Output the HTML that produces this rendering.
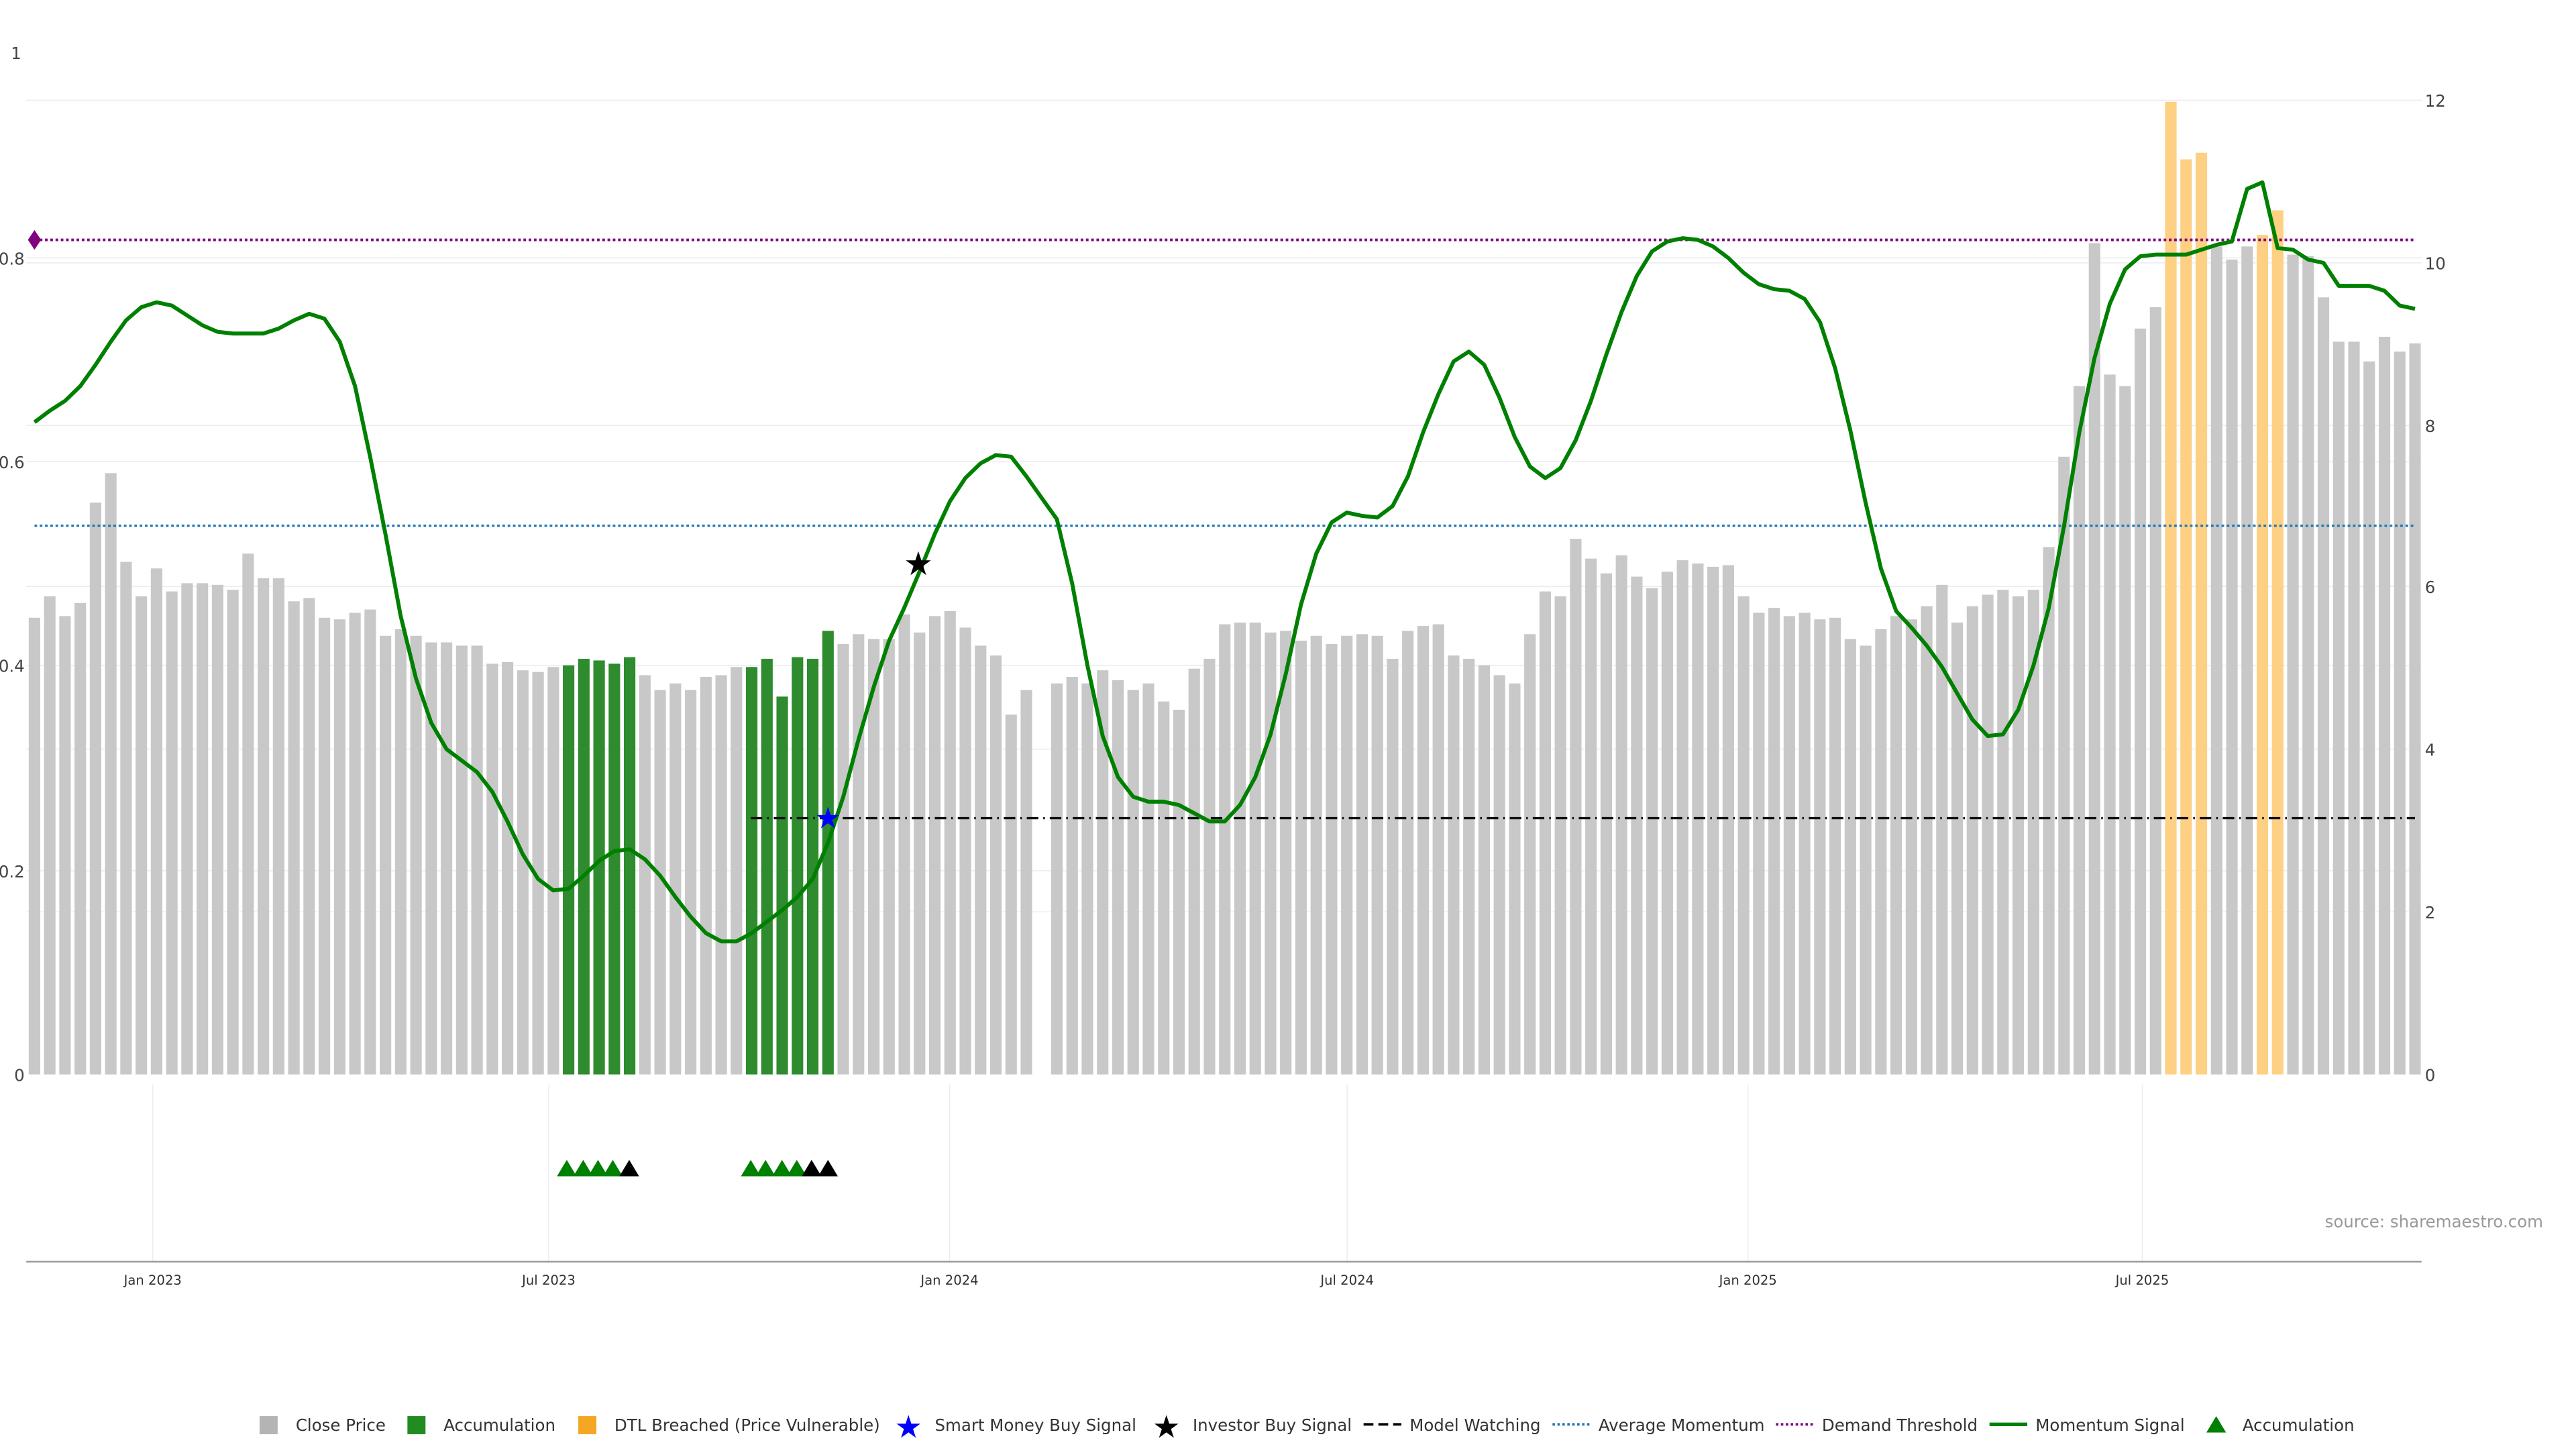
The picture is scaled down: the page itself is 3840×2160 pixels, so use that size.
<!DOCTYPE html>
<html><head><meta charset="utf-8"><style>
html,body{margin:0;padding:0;background:#fff;width:3840px;height:2160px;overflow:hidden}
svg{display:block}
text{font-family:"DejaVu Sans","Liberation Sans",sans-serif}
</style></head><body>
<svg id="s" width="3840" height="2160" viewBox="0 0 1568 882" xmlns="http://www.w3.org/2000/svg">
<rect width="1568" height="882" fill="#fff"/>
<g id="grid" stroke="#ececf0" stroke-width="0.6"></g>
<g id="bars"></g>
<line x1="21" y1="146" x2="1470" y2="146" stroke="#800080" stroke-width="1.6" stroke-dasharray="1.6,1.6"/>
<polygon points="21,140 25,146 21,152 17,146" fill="#800080"/>
<line x1="21" y1="320" x2="1470" y2="320" stroke="#1f77b4" stroke-width="1.4" stroke-dasharray="1.6,1.6"/>
<line x1="457" y1="498" x2="1470" y2="498" stroke="#111" stroke-width="1.4" stroke-dasharray="7,3,1,3"/>
<polyline id="mom" fill="none" stroke="#008000" stroke-width="2.4" stroke-linejoin="round"/>
<text x="504" y="504" font-size="18" fill="#0000ff" text-anchor="middle">★</text>
<text x="559" y="350" font-size="20" fill="#000" text-anchor="middle">★</text>
<g id="tri"></g>
<g font-size="10" fill="#444">
<text x="13" y="36" text-anchor="end">1</text>
<text x="15" y="161" text-anchor="end">0.8</text>
<text x="15" y="285" text-anchor="end">0.6</text>
<text x="15" y="409" text-anchor="end">0.4</text>
<text x="15" y="534" text-anchor="end">0.2</text>
<text x="15" y="658" text-anchor="end">0</text>
<text x="1476" y="65">12</text><text x="1476" y="164">10</text><text x="1476" y="263">8</text>
<text x="1476" y="361">6</text><text x="1476" y="460">4</text><text x="1476" y="559">2</text><text x="1476" y="658">0</text>
</g>
<line x1="16" y1="768" x2="1474" y2="768" stroke="#999" stroke-width="1"/>
<g font-size="8" fill="#333" text-anchor="middle">
<text x="93" y="782">Jan 2023</text><text x="334" y="782">Jul 2023</text><text x="578" y="782">Jan 2024</text>
<text x="820" y="782">Jul 2024</text><text x="1064" y="782">Jan 2025</text><text x="1304" y="782">Jul 2025</text>
</g>
<text x="1548" y="747" font-size="10" fill="#999" text-anchor="end">source: sharemaestro.com</text>
<g font-size="10" fill="#333">
<rect x="158" y="862" width="11" height="11" fill="#b4b4b4"/><text x="180" y="871">Close Price</text>
<rect x="248" y="862" width="11" height="11" fill="#228b22"/><text x="270" y="871">Accumulation</text>
<rect x="352" y="862" width="11" height="11" fill="#f5a623"/><text x="374" y="871">DTL Breached (Price Vulnerable)</text>
<text x="553" y="875" font-size="19" fill="#0000ff" text-anchor="middle">★</text><text x="569" y="871">Smart Money Buy Signal</text>
<text x="710" y="875" font-size="19" fill="#000" text-anchor="middle">★</text><text x="726" y="871">Investor Buy Signal</text>
<line x1="830" y1="867" x2="853" y2="867" stroke="#000" stroke-width="1.5" stroke-dasharray="6,3"/><text x="858" y="871">Model Watching</text>
<line x1="945" y1="867" x2="968" y2="867" stroke="#1f77b4" stroke-width="1.5" stroke-dasharray="1.5,1.5"/><text x="973" y="871">Average Momentum</text>
<line x1="1081" y1="867" x2="1104" y2="867" stroke="#800080" stroke-width="1.5" stroke-dasharray="1.5,1.5"/><text x="1109" y="871">Demand Threshold</text>
<line x1="1211" y1="867" x2="1234" y2="867" stroke="#008000" stroke-width="2.2"/><text x="1239" y="871">Momentum Signal</text>
<polygon points="1343,872 1349,862 1355,872" fill="#008000"/><text x="1365" y="871">Accumulation</text>
</g>
</svg>
<script>
var NS="http://www.w3.org/2000/svg";
function el(p,t,a){var e=document.createElementNS(NS,t);for(var k in a)e.setAttribute(k,a[k]);p.appendChild(e);return e;}
var g=document.getElementById("grid");
[61,160,259,357,456,555,157,281,405,530].forEach(function(y){el(g,"line",{x1:16,x2:1474,y1:y,y2:y});});
[93,334,578,820,1064,1304].forEach(function(x){el(g,"line",{x1:x,x2:x,y1:660,y2:768});});
var tops=[376,363,375,367,306,288,342,363,346,360,355,355,356,359,337,352,352,366,364,376,377,373,371,387,383,387,391,391,393,393,404,403,408,409,406,405,401,402,404,400,411,420,416,420,412,411,406,406,401,424,400,401,384,392,386,389,389,374,385,375,372,382,393,399,435,420,654,416,412,416,408,414,420,416,427,432,407,401,380,379,379,385,384,390,387,392,387,386,387,401,384,381,380,399,401,405,411,416,386,360,363,328,340,349,338,351,358,348,341,343,345,344,363,373,370,375,373,377,376,389,393,383,375,377,369,356,379,369,362,359,363,359,333,278,235,148,228,235,200,187,62,97,93,150,158,150,143,128,155,156,181,208,208,220,205,214,209];
var n=tops.length, x0=21, x1=1470, dx=(x1-x0)/(n-1);
var green=[35,36,37,38,39,47,48,49,50,51,52];
tops.forEach(function(t,i){var x=x0+i*dx;var c="#c8c8c8";
 if(green.indexOf(i)>=0)c="#2e8b2e";
 if([140,141,142,146,147].indexOf(i)>=0)c="#fdd084";
 if(t<654)el(document.getElementById("bars"),"rect",{x:x-3.5,y:t,width:7,height:654-t,fill:c});});
var m=[257,250,244,235,222,208,195,187,184,186,192,198,202,203,203,203,200,195,191,194,208,235,278,325,375,413,440,456,463,470,482,500,520,535,542,541,533,524,518,517,523,533,546,558,568,573,573,568,561,554,546,535,513,485,450,418,390,370,348,325,305,291,282,277,278,290,303,316,355,405,448,473,485,488,488,490,495,500,500,490,473,447,410,368,337,318,312,314,315,308,290,263,240,220,214,222,242,266,284,291,285,268,244,216,190,168,153,147,145,146,150,157,166,173,176,177,182,196,224,262,306,346,372,382,393,406,422,438,448,447,432,405,370,320,263,218,185,164,156,155,155,155,152,149,147,115,111,151,152,158,160,174,174,174,177,186,188];
var dm=(x1-x0)/(m.length-1);
document.getElementById("mom").setAttribute("points",m.map(function(y,i){return (x0+i*dm).toFixed(1)+","+y;}).join(" "));
var tr=document.getElementById("tri");
[[345,"#008000"],[355,"#008000"],[364,"#008000"],[373,"#008000"],[383,"#000"],[457,"#008000"],[466,"#008000"],[476,"#008000"],[485,"#008000"],[494,"#000"],[504,"#000"]].forEach(function(a){
 el(tr,"polygon",{points:(a[0]-6)+",716 "+a[0]+",706 "+(a[0]+6)+",716",fill:a[1]});});
</script>
</body></html>
